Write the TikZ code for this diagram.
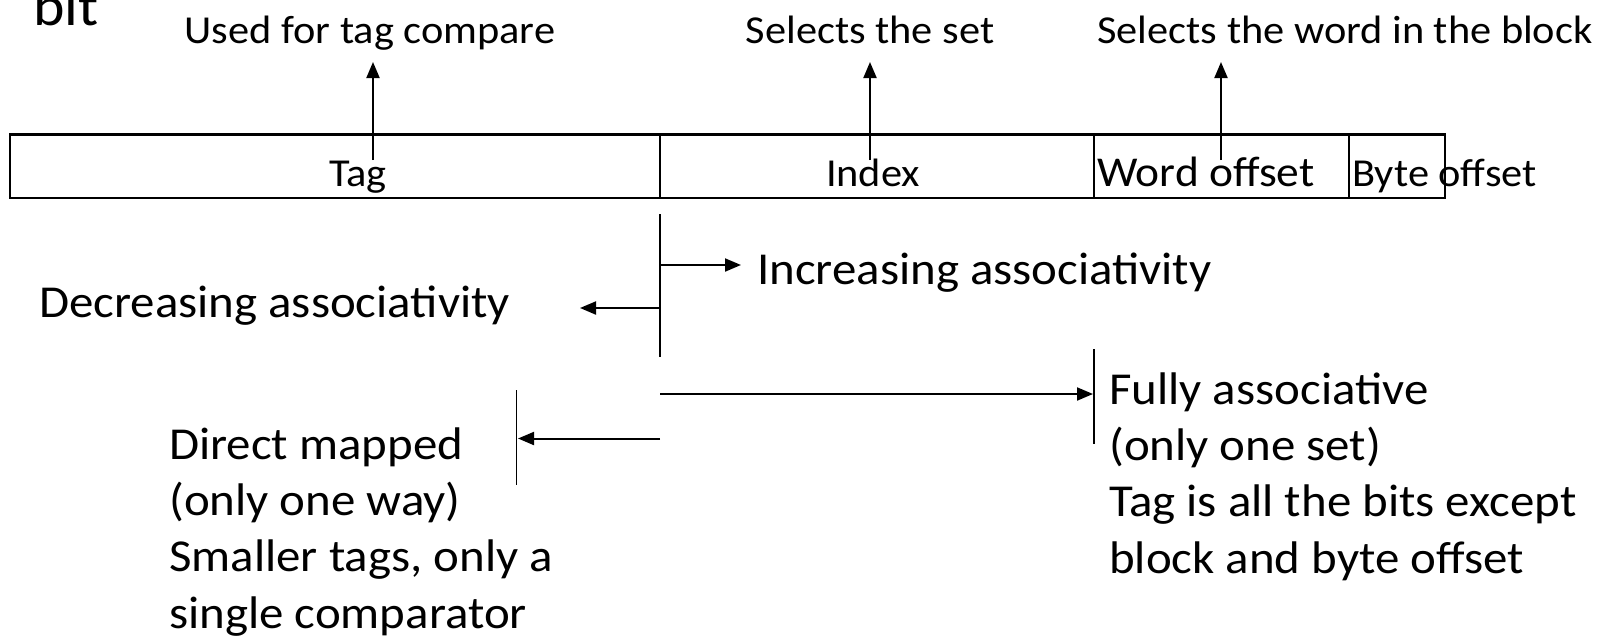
\documentclass[tikz,border=0pt]{standalone}
\usepackage{fontspec}
\setmainfont{Carlito}[FakeStretch=1.07]
\usetikzlibrary{arrows.meta}
\begin{document}
\begin{tikzpicture}[x=1pt,y=-1pt,
  body/.style={inner sep=0pt, font=\fontsize{45.7}{56.3}\selectfont},
  small/.style={inner sep=0pt, font=\fontsize{39.6}{48}\selectfont},
  field/.style={draw, line width=2.2pt, inner sep=0pt},
  conn/.style={line width=2pt, -{Triangle[length=16pt,width=13pt]}},
  bar/.style={line width=1.6pt}]
\useasboundingbox (0,0) rectangle (1610,641);
% title fragment
\node[inner sep=0pt, anchor=base west, font=\fontsize{56}{60}\selectfont] (bit) at (33,25) {bit};
% address fields
\draw[field] (10,134.5) rectangle (1445,198);
\coordinate (d1t) at (660,134.5); \coordinate (d1b) at (660,198);
\coordinate (d2t) at (1094,134.5); \coordinate (d2b) at (1094,198);
\coordinate (d3t) at (1349,134.5); \coordinate (d3b) at (1349,198);
\draw[bar] (d1t) -- (d1b); \draw[bar] (d2t) -- (d2b); \draw[bar] (d3t) -- (d3b);
\node[small, anchor=base] (tag) at (358,186) {Tag};
\node[small, anchor=base] (index) at (873,186) {Index};
\node[small, anchor=base west, font=\fontsize{42.5}{48}\selectfont] (word) at (1097,186) {Word offset};
\node[small, anchor=base west] (byte) at (1352,186) {Byte offset};
% top labels
\node[small, anchor=base] (used) at (370,43) {Used for tag compare};
\node[small, anchor=base] (sel) at (870,43) {Selects the set};
\node[small, anchor=base] (selw) at (1345,43) {Selects the word in the block};
\coordinate (ua) at (373,160); \coordinate (ut) at (373,62);
\coordinate (sa) at (870,160); \coordinate (st) at (870,62);
\coordinate (wa) at (1221,160); \coordinate (wt) at (1221,62);
\draw[conn] (ua) -- (ut);
\draw[conn] (sa) -- (st);
\draw[conn] (wa) -- (wt);
% associativity
\coordinate (v1t) at (660,214); \coordinate (v1b) at (660,357);
\draw[bar] (v1t) -- (v1b);
\coordinate (ia) at (660,265); \coordinate (ib) at (741,265);
\draw[conn] (ia) -- (ib);
\node[body, anchor=base west] (inc) at (757,284) {Increasing associativity};
\coordinate (da) at (660,308); \coordinate (db) at (580,308);
\draw[conn] (da) -- (db);
\node[body, anchor=base west] (dec) at (39,317) {Decreasing associativity};
% fully associative
\coordinate (fa) at (660,394); \coordinate (fb) at (1093,394);
\draw[conn] (fa) -- (fb);
\coordinate (fvt) at (1094,349); \coordinate (fvb) at (1094,444);
\draw[bar] (fvt) -- (fvb);
\node[body, anchor=base west, align=left] (full) at (1109,573) {Fully associative\\(only one set)\\Tag is all the bits except\\block and byte offset};
% direct mapped
\coordinate (ma) at (660,438.5); \coordinate (mb) at (518,438.5);
\draw[conn] (ma) -- (mb);
\coordinate (mvt) at (516.6,390); \coordinate (mvb) at (516.6,485);
\draw[bar] (mvt) -- (mvb);
\node[body, anchor=base west, align=left] (direct) at (169,628) {Direct mapped\\(only one way)\\Smaller tags, only a\\single comparator};
\end{tikzpicture}
\end{document}
